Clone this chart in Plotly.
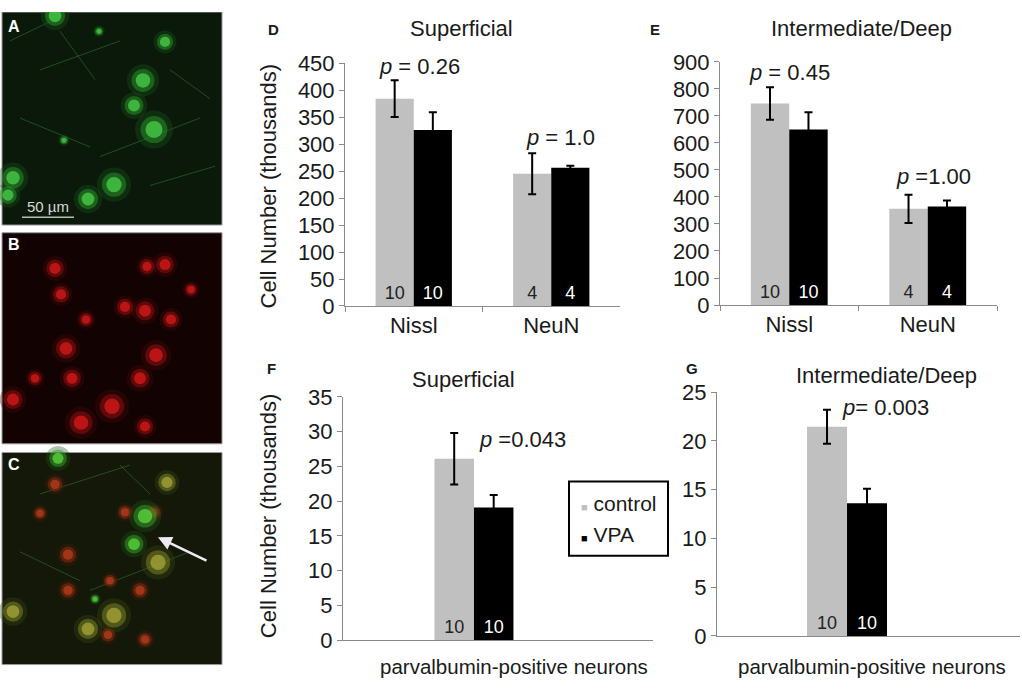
import plotly.graph_objects as go

W, H = 1022, 693
FONT = "Liberation Sans, Arial, sans-serif"

# ---------------- data ----------------
groups_top = ["control", "VPA"]
cats_top = ["Nissl", "NeuN"]

D_control = [384, 245]
D_control_err = [34, 38]
D_vpa = [326, 256]
D_vpa_err = [33, 4]
D_n_control = ["10", "4"]
D_n_vpa = ["10", "4"]
D_pvals = ["<i>p</i> = 0.26", "<i>p</i> = 1.0"]

E_control = [746, 356]
E_control_err = [60, 52]
E_vpa = [650, 365]
E_vpa_err = [63, 22]
E_n_control = ["10", "4"]
E_n_vpa = ["10", "4"]
E_pvals = ["<i>p</i> = 0.45", "<i>p</i> =1.00"]

cats_bottom = ["parvalbumin-positive neurons"]
F_control = [26.1]
F_control_err = [3.7]
F_vpa = [19.1]
F_vpa_err = [1.8]
F_n = ["10"]
F_pval = "<i>p</i> =0.043"

G_control = [21.45]
G_control_err = [1.75]
G_vpa = [13.6]
G_vpa_err = [1.5]
G_n = ["10"]
G_pval = "<i>p</i>= 0.003"

legend_labels = ["control", "VPA"]

# decorative approximation of the micrographs (pixel positions in the image panels)
A_cells = [(143, 71, 17), (134, 97, 14), (154, 122, 20), (165, 31, 12), (64, 133, 6),
           (13, 172, 16), (114, 179, 18), (88, 194, 15), (8, 190, 13), (55, 4, 15), (99, 20, 6)]
A_fibers = [(40, 60, 120, 30), (100, 150, 200, 110), (20, 110, 90, 140), (150, 180, 215, 160),
            (60, 20, 95, 70), (170, 60, 210, 90), (10, 30, 50, 10)]
B_cells = [(165, 262, 13), (147, 264, 11), (55, 266, 13), (61, 293, 12), (125, 306, 12),
           (145, 310, 14), (171, 319, 12), (156, 356, 16), (66, 349, 15), (72, 380, 13),
           (112, 409, 18), (81, 426, 17), (13, 402, 14), (140, 380, 14), (86, 319, 10),
           (191, 288, 9), (145, 430, 12), (35, 380, 10)]
C_green = [(145, 523, 17), (134, 552, 14), (58, 463, 13), (95, 609, 6)]
C_yellow = [(158, 571, 18), (167, 488, 13), (114, 626, 18), (88, 640, 15), (13, 622, 15)]
C_red = [(55, 490, 11), (125, 519, 10), (154, 519, 10), (68, 563, 12), (140, 600, 11),
         (68, 600, 11), (145, 651, 10), (108, 646, 10), (110, 590, 9), (40, 520, 9)]
C_fibers = [(40, 500, 130, 470), (90, 600, 190, 560), (20, 560, 80, 590), (120, 470, 150, 500)]

CONTROL_COLOR = "#c0c0c0"
VPA_COLOR = "#000000"
AXIS_COLOR = "#8a8a8a"
TEXT_COLOR = "#1a1a1a"


def xd(a, b):
    return [a / W, b / W]


def yd(top, bottom):
    return [1 - bottom / H, 1 - top / H]


fig = go.Figure()


def add_pair(xa, ya, cats, ctrl, ctrl_err, vpa, vpa_err, n_ctrl, n_vpa):
    fig.add_trace(go.Bar(
        x=cats, y=ctrl, name=legend_labels[0], marker=dict(color=CONTROL_COLOR, line=dict(width=0)),
        error_y=dict(type="data", array=ctrl_err, color="black", thickness=2, width=4),
        text=n_ctrl, textposition="inside", insidetextanchor="start", textangle=0,
        textfont=dict(family=FONT, size=18, color="#222222"),
        xaxis=xa, yaxis=ya, showlegend=False, hoverinfo="skip"))
    fig.add_trace(go.Bar(
        x=cats, y=vpa, name=legend_labels[1], marker=dict(color=VPA_COLOR, line=dict(width=0)),
        error_y=dict(type="data", array=vpa_err, color="black", thickness=2, width=4),
        text=n_vpa, textposition="inside", insidetextanchor="start", textangle=0,
        textfont=dict(family=FONT, size=18, color="white"),
        xaxis=xa, yaxis=ya, showlegend=False, hoverinfo="skip"))


add_pair("x", "y", cats_top, D_control, D_control_err, D_vpa, D_vpa_err, D_n_control, D_n_vpa)
add_pair("x2", "y2", cats_top, E_control, E_control_err, E_vpa, E_vpa_err, E_n_control, E_n_vpa)
add_pair("x3", "y3", cats_bottom, F_control, F_control_err, F_vpa, F_vpa_err, F_n, F_n)
add_pair("x4", "y4", cats_bottom, G_control, G_control_err, G_vpa, G_vpa_err, G_n, G_n)


# ---- micrograph approximations ----
def glow(cells, core, mid, outer):
    xs = [c[0] for c in cells]
    ys = [c[1] for c in cells]
    ss = [c[2] for c in cells]
    for scale, col, op in ((1.9, outer, 0.35), (1.35, mid, 0.5), (0.85, core, 0.75)):
        fig.add_trace(go.Scatter(
            x=xs, y=ys, mode="markers", xaxis="x5", yaxis="y5", showlegend=False, hoverinfo="skip",
            marker=dict(size=[s * scale for s in ss], color=col, opacity=op, line=dict(width=0))))


shapes = []
for (top, bot, col) in ((0, 221, "#0b190b"), (229, 448, "#130202"), (457, 677, "#131808")):
    shapes.append(dict(type="rect", xref="x5", yref="y5", x0=2, x1=222, y0=top, y1=bot,
                       fillcolor=col, line=dict(width=1, color="#9a9a9a"), layer="below"))
for (x0, y0, x1, y1) in A_fibers + C_fibers:
    shapes.append(dict(type="line", xref="x5", yref="y5", x0=x0, y0=y0, x1=x1, y1=y1,
                       line=dict(color="rgba(60,140,60,0.45)", width=1), layer="below"))
shapes.append(dict(type="line", xref="x5", yref="y5", x0=22, x1=74, y0=213, y1=213,
                   line=dict(color="#bbbbbb", width=1.5)))
# legend box
shapes.append(dict(type="rect", xref="paper", yref="paper", x0=569 / W, x1=668 / W,
                   y0=1 - 564 / H, y1=1 - 487 / H, line=dict(color="black", width=2),
                   fillcolor="white"))

glow(A_cells, "#48d048", "#2a962a", "#185418")
glow(B_cells, "#d81818", "#981010", "#4c0808")
glow(C_red, "#b83c1c", "#8a2e0f", "#461a08")
glow(C_yellow, "#aaa63a", "#808a28", "#3c4814")
glow(C_green, "#5cd83e", "#38a02a", "#1e5616")

annotations = []


def ann(text, x, y, size=22, xref="paper", yref="paper", **kw):
    d = dict(text=text, x=x, y=y, xref=xref, yref=yref, showarrow=False,
             xanchor=kw.pop("xanchor", "center"), yanchor=kw.pop("yanchor", "middle"),
             font=dict(family=FONT, size=size, color=kw.pop("color", TEXT_COLOR)))
    d.update(kw)
    annotations.append(d)


# image labels
ann("<b>A</b>", 14, 15, size=16, xref="x5", yref="y5", color="white")
ann("<b>B</b>", 14, 241, size=16, xref="x5", yref="y5", color="white")
ann("<b>C</b>", 14, 469, size=16, xref="x5", yref="y5", color="white")
ann("50 µm", 48, 202, size=15, xref="x5", yref="y5", color="#d8d8d8")
annotations.append(dict(x=158, y=545, ax=208, ay=570, xref="x5", yref="y5", axref="x5", ayref="y5",
                        showarrow=True, arrowhead=2, arrowsize=1.1, arrowwidth=2.5,
                        arrowcolor="#f0e8f4", text=""))

# panel letters and titles
ann("<b>D</b>", 273 / W, 1 - 18 / H, size=15)
ann("<b>E</b>", 655 / W, 1 - 18 / H, size=15)
ann("<b>F</b>", 271 / W, 1 - 370 / H, size=15)
ann("<b>G</b>", 692 / W, 1 - 370 / H, size=15)
ann("Superficial", 461 / W, 1 - 17 / H)
ann("Intermediate/Deep", 861 / W, 1 - 17 / H)
ann("Superficial", 463 / W, 1 - 381 / H)
ann("Intermediate/Deep", 886 / W, 1 - 377 / H)

# y titles
ann("Cell Number (thousands)", 268 / W, 1 - 181 / H, textangle=-90)
ann("Cell Number (thousands)", 268 / W, 1 - 523 / H, textangle=-90)

# bottom category labels
ann(cats_bottom[0], 514 / W, 1 - 679 / H, size=20.5)
ann(cats_bottom[0], 872 / W, 1 - 679 / H, size=20.5)

# legend entries
ann("<span style='color:%s;font-size:11px'>■</span> %s" % (CONTROL_COLOR, legend_labels[0]),
    579 / W, 1 - 510 / H, size=21, xanchor="left")
ann("<span style='color:%s;font-size:11px'>■</span> %s" % (VPA_COLOR, legend_labels[1]),
    579 / W, 1 - 542 / H, size=21, xanchor="left")

# p values
ann(D_pvals[0], 0.04, 443, xref="x", yref="y")
ann(D_pvals[1], 1.065, 312, xref="x", yref="y")
ann(E_pvals[0], 0.0, 860, xref="x2", yref="y2")
ann(E_pvals[1], 1.04, 474, xref="x2", yref="y2")
ann(F_pval, 0.344, 28.9, xref="x3", yref="y3")
ann(G_pval, 0.264, 23.4, xref="x4", yref="y4")

yax_common = dict(showgrid=False, zeroline=False, showline=True, linecolor=AXIS_COLOR, linewidth=1,
                  ticks="outside", ticklen=5, tickcolor=AXIS_COLOR,
                  tickfont=dict(family=FONT, size=22, color=TEXT_COLOR))
xcat_common = dict(type="category", showgrid=False, zeroline=False, showline=True, linecolor=AXIS_COLOR,
                   linewidth=1, ticks="outside", tickson="boundaries", ticklen=5, tickcolor=AXIS_COLOR,
                   tickfont=dict(family=FONT, size=22, color=TEXT_COLOR))
xbot_common = dict(type="category", showgrid=False, zeroline=False, showline=True, linecolor=AXIS_COLOR,
                   linewidth=1, ticks="", showticklabels=False)

fig.update_layout(
    width=W, height=H, margin=dict(l=0, r=0, t=0, b=0),
    paper_bgcolor="white", plot_bgcolor="white",
    barmode="group", bargap=0.445, bargroupgap=0,
    font=dict(family=FONT, color=TEXT_COLOR),
    showlegend=False,
    xaxis=dict(domain=xd(345, 620), range=[-0.5, 1.5], anchor="y", **xcat_common),
    yaxis=dict(domain=yd(53, 305), range=[0, 450], dtick=50, anchor="x", **yax_common),
    xaxis2=dict(domain=xd(720, 997), range=[-0.5, 1.5], anchor="y2", **xcat_common),
    yaxis2=dict(domain=yd(51.7, 304), range=[0, 900], dtick=100, anchor="x2", **yax_common),
    xaxis3=dict(domain=xd(343, 653), range=[-0.920, 1.258], anchor="y3", **xbot_common),
    yaxis3=dict(domain=yd(399.3, 651.7), range=[0, 35], dtick=5, anchor="x3", **yax_common),
    xaxis4=dict(domain=xd(717, 1020), range=[-0.902, 1.200], anchor="y4", **xbot_common),
    yaxis4=dict(domain=yd(394.3, 647.3), range=[0, 25], dtick=5, anchor="x4", **yax_common),
    xaxis5=dict(domain=[0, 224 / W], range=[0, 224], visible=False, anchor="y5"),
    yaxis5=dict(domain=[0, 1], range=[H, 0], visible=False, anchor="x5"),
    shapes=shapes, annotations=annotations,
)

fig.write_html("out.html", config={"displayModeBar": False},
               post_script="document.body.style.margin='0px';document.body.style.overflow='hidden';")
